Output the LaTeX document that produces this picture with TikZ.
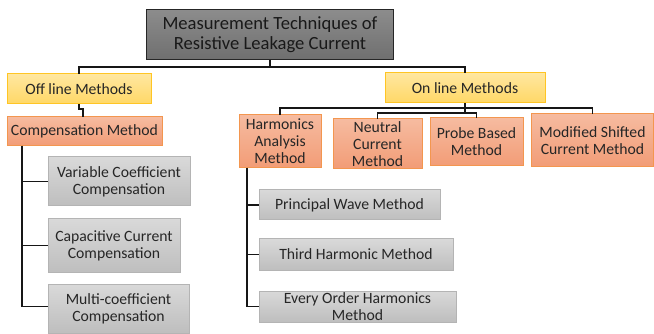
\documentclass[tikz,border=0pt]{standalone}
\usepackage{fontspec}
\setmainfont{Carlito}
\definecolor{txt}{HTML}{262626}
\definecolor{titleTop}{HTML}{8C8C8C}
\definecolor{titleBot}{HTML}{6F6F6F}
\definecolor{yelTop}{HTML}{FFE7A0}
\definecolor{yelBot}{HTML}{FFD866}
\definecolor{yelLine}{HTML}{FFC524}
\definecolor{orTop}{HTML}{F6BBA0}
\definecolor{orBot}{HTML}{F29C76}
\definecolor{orLine}{HTML}{F3964F}
\definecolor{grTop}{HTML}{D9D9D9}
\definecolor{grBot}{HTML}{BEBEBE}
\definecolor{grLine}{HTML}{B4B4B4}
\definecolor{wire}{HTML}{161616}
\begin{document}
\begin{tikzpicture}[x=1pt,y=-1pt,
  every node/.style={inner sep=0pt,outer sep=0pt,text=txt,align=center,
    font=\fontsize{15.7}{17}\selectfont},
  titlebox/.style={draw=black!85,line width=1pt,top color=titleTop,bottom color=titleBot,
    font=\fontsize{18.6}{20}\selectfont,text=black!90},
  catbox/.style={draw=yelLine,line width=1pt,top color=yelTop,bottom color=yelBot},
  methbox/.style={draw=orLine,line width=1pt,top color=orTop,bottom color=orBot},
  leafbox/.style={draw=grLine,line width=1pt,top color=grTop,bottom color=grBot},
  link/.style={draw=wire,line width=1.6pt}]
\useasboundingbox (0,0) rectangle (654,334);

% root
\node[titlebox,minimum width=247pt,minimum height=50pt] (title) at (270,35)
  {Measurement Techniques of\\Resistive Leakage Current};

% categories
\node[catbox,minimum width=144pt,minimum height=30pt] (off) at (79,89) {Off line Methods};
\node[catbox,minimum width=160pt,minimum height=30pt] (on) at (465,88) {On line Methods};

% method boxes
\node[methbox,minimum width=155pt,minimum height=29pt] (comp) at (84.5,131.5) {Compensation Method};
\node[methbox,minimum width=82pt,minimum height=53pt] (harm) at (280,141.5) {Harmonics\\Analysis\\Method};
\node[methbox,minimum width=89pt,minimum height=50pt] (neut) at (377.5,144) {Neutral\\Current\\Method};
\node[methbox,minimum width=93pt,minimum height=48pt] (probe) at (476.5,142) {Probe Based\\Method};
\node[methbox,minimum width=122pt,minimum height=53pt] (mod) at (592.5,140.5) {Modified Shifted\\Current Method};

% compensation leaves
\node[leafbox,minimum width=142pt,minimum height=49pt] (var) at (119,181.5) {Variable Coefficient\\Compensation};
\node[leafbox,minimum width=132pt,minimum height=53pt] (cap) at (114,245.5) {Capacitive Current\\Compensation};
\node[leafbox,minimum width=141pt,minimum height=49pt] (multi) at (118.5,308.5) {Multi-coefficient\\Compensation};

% harmonics leaves
\node[leafbox,minimum width=181pt,minimum height=30pt] (prin) at (349.5,205) {Principal Wave Method};
\node[leafbox,minimum width=194pt,minimum height=31pt] (third) at (356,254.5) {Third Harmonic Method};
\node[leafbox,minimum width=197pt,minimum height=31pt] (every) at (357.5,306.5) {Every Order Harmonics\\Method};

% junction points
\coordinate (tj) at (270,67);
\coordinate (oj) at (465,108);
\coordinate (oj2) at (465,113);
\coordinate (ct) at (22,146);
\coordinate (ht) at (247,168);

% connectors
\draw[link] (title.south) -- (tj);
\draw[link] (tj) -| (off.north);
\draw[link] (tj) -| (on.north);
\draw[link] (off.south) -- ++(0,5) -| ([xshift=-1.5pt]comp.north);
\draw[link] (on.south) -- (oj);
\draw[link] (oj) -| (harm.north);
\draw[link] (oj) -| (mod.north);
\draw[link] (oj) -- (oj2);
\draw[link] (oj2) -| (neut.north);
\draw[link] (oj2) -| (probe.north);
\draw[link] (ct) |- (var.west);
\draw[link] (ct) |- (cap.west);
\draw[link] (ct) |- ([yshift=2pt]multi.west);
\draw[link] (ht) |- (prin.west);
\draw[link] (ht) |- (third.west);
\draw[link] (ht) |- (every.west);
\end{tikzpicture}
\end{document}
